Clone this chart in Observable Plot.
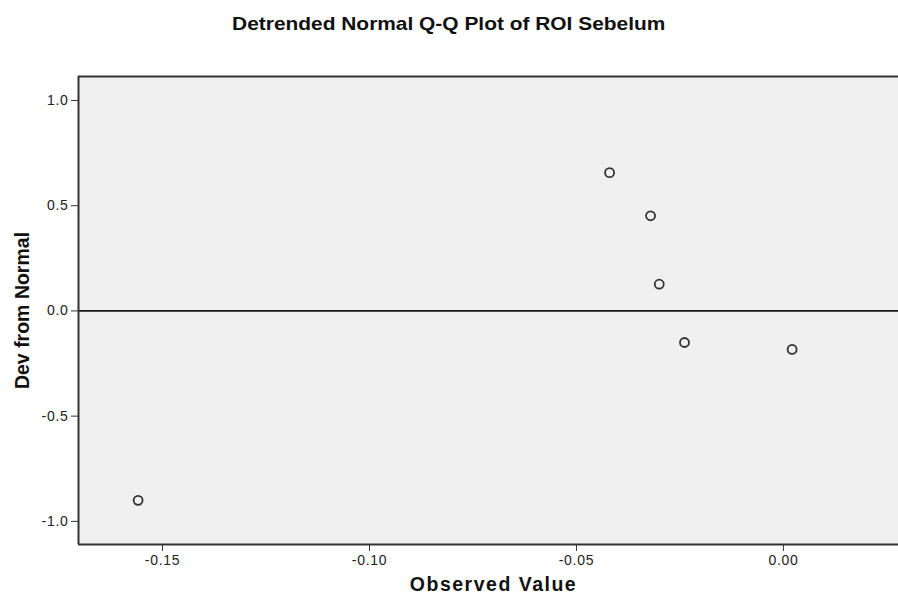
<!DOCTYPE html>
<html>
<head>
<meta charset="utf-8">
<script src="https://cdn.jsdelivr.net/npm/d3@7"></script>
<script src="https://cdn.jsdelivr.net/npm/@observablehq/plot@0.6"></script>
<style>
  html, body { margin: 0; padding: 0; background: #ffffff; }
  #title {
    width: 898px; height: 40px; box-sizing: border-box; padding-top: 14px;
    text-align: center; font: bold 18.5px/20px "Liberation Sans", Arial, sans-serif; color: #111;
  }
  #title span { display: inline-block; transform: scaleX(1.13); transform-origin: center; }
  #chart g[aria-label="x-axis tick label"] text,
  #chart g[aria-label="y-axis tick label"] text { letter-spacing: 0.7px; }
  #chart g.xlab text { letter-spacing: 1.5px; }
</style>
</head>
<body>
<div id="title"><span>Detrended Normal Q-Q Plot of ROI Sebelum</span></div>
<div id="chart"></div>
<script>
// Data
const observedValues = [-0.1559, -0.0420, -0.0321, -0.0300, -0.0239, 0.0021];
const devFromNormal  = [-0.900, 0.657, 0.452, 0.127, -0.150, -0.183];
const xTicks = [-0.15, -0.10, -0.05, 0.00];
const yTicks = [-1.0, -0.5, 0.0, 0.5, 1.0];
const xDomain = [-0.1703, 0.0278];
const yDomain = [-1.11, 1.114];
const xLabel = ["Observed Value"];
const yLabel = ["Dev from Normal"];

const points = observedValues.map((x, i) => ({x, y: devFromNormal[i]}));

const chart = Plot.plot({
  width: 898,
  height: 562,
  marginTop: 36,
  marginBottom: 58,
  marginLeft: 78,
  marginRight: 0,
  style: {fontFamily: '"Liberation Sans", Arial, sans-serif', fontSize: "14px", color: "#222", background: "#ffffff"},
  x: {domain: xDomain},
  y: {domain: yDomain},
  marks: [
    Plot.frame({fill: "#f0f0f0", stroke: "none"}),
    Plot.ruleY([0], {stroke: "#1a1a1a", strokeWidth: 1.8}),
    Plot.ruleY([yDomain[1]], {stroke: "#333", strokeWidth: 2}),
    Plot.ruleY([yDomain[0]], {stroke: "#333", strokeWidth: 2}),
    Plot.ruleX([xDomain[0]], {stroke: "#333", strokeWidth: 2}),
    Plot.dot(points, {x: "x", y: "y", r: 4.5, stroke: "#333", strokeWidth: 1.8, fill: "none"}),
    Plot.axisX({ticks: xTicks, tickFormat: d => d.toFixed(2), tickSize: 7, tickPadding: 4, label: null, stroke: "#333", fill: "#222", fontSize: 14}),
    Plot.axisY({ticks: yTicks, tickFormat: d => d.toFixed(1), tickSize: 7, tickPadding: 3, label: null, stroke: "#333", fill: "#222", fontSize: 14}),
    Plot.text(xLabel, {frameAnchor: "bottom", dy: 46, dx: 5, text: d => d, fontWeight: "bold", fontSize: 19.5, fill: "#111", className: "xlab"}),
    Plot.text(yLabel, {frameAnchor: "left", dx: -56, rotate: -90, textAnchor: "middle", text: d => d, fontWeight: "bold", fontSize: 19.5, fill: "#111"})
  ]
});
document.getElementById("chart").appendChild(chart);
</script>
</body>
</html>
